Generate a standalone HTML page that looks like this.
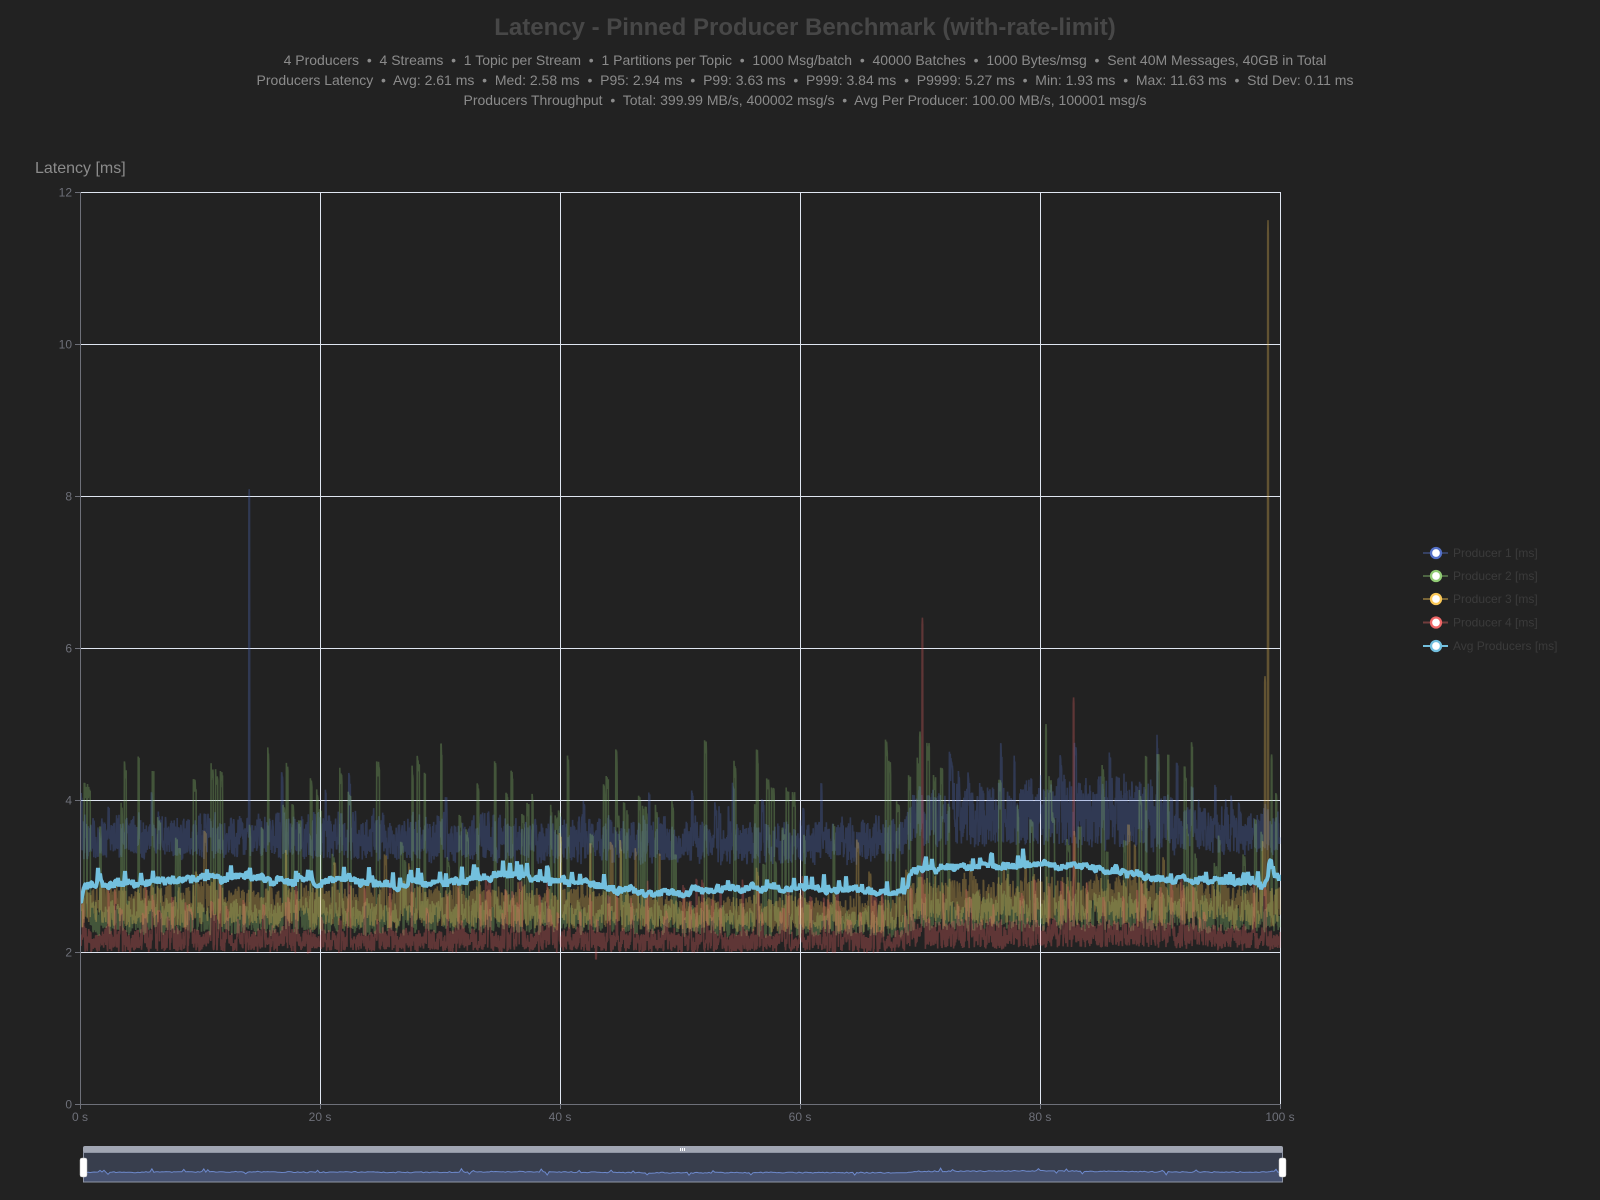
<!DOCTYPE html>
<html><head><meta charset="utf-8">
<style>
html,body{margin:0;padding:0;background:#222222;width:1600px;height:1200px;overflow:hidden;}
.t{position:absolute;left:5px;width:1600px;text-align:center;font-family:"Liberation Sans",Arial,sans-serif;white-space:pre;}
#title{top:13px;font-size:24px;font-weight:bold;color:#474747;line-height:30px;}
.sub{font-size:14px;color:#8b8b8b;line-height:20px;}
svg{position:absolute;left:0;top:0;}
</style></head><body>
<svg id="s" width="1600" height="1200" viewBox="0 0 1600 1200" xmlns="http://www.w3.org/2000/svg" font-family="Liberation Sans, Arial, sans-serif">
<defs><clipPath id="cp"><rect x="80" y="150" width="1201" height="954"/></clipPath></defs>
<g stroke="#E0E6F1" stroke-width="1" shape-rendering="crispEdges">
<line x1="80" y1="192.5" x2="1280" y2="192.5"/>
<line x1="80" y1="344.5" x2="1280" y2="344.5"/>
<line x1="80" y1="496.5" x2="1280" y2="496.5"/>
<line x1="80" y1="648.5" x2="1280" y2="648.5"/>
<line x1="80" y1="800.5" x2="1280" y2="800.5"/>
<line x1="80" y1="952.5" x2="1280" y2="952.5"/>
<line x1="320.5" y1="192" x2="320.5" y2="1104"/>
<line x1="560.5" y1="192" x2="560.5" y2="1104"/>
<line x1="800.5" y1="192" x2="800.5" y2="1104"/>
<line x1="1040.5" y1="192" x2="1040.5" y2="1104"/>
<line x1="1280.5" y1="192" x2="1280.5" y2="1104"/>
</g>
<g id="series" clip-path="url(#cp)"></g>
<g stroke="#6E7079" stroke-width="1" shape-rendering="crispEdges">
<line x1="80.5" y1="192" x2="80.5" y2="1104"/>
<line x1="80" y1="1104.5" x2="1281" y2="1104.5"/>
<line x1="75" y1="192.5" x2="80" y2="192.5"/>
<line x1="75" y1="344.5" x2="80" y2="344.5"/>
<line x1="75" y1="496.5" x2="80" y2="496.5"/>
<line x1="75" y1="648.5" x2="80" y2="648.5"/>
<line x1="75" y1="800.5" x2="80" y2="800.5"/>
<line x1="75" y1="952.5" x2="80" y2="952.5"/>
<line x1="75" y1="1104.5" x2="80" y2="1104.5"/>
<line x1="80.5" y1="1104" x2="80.5" y2="1109"/>
<line x1="320.5" y1="1104" x2="320.5" y2="1109"/>
<line x1="560.5" y1="1104" x2="560.5" y2="1109"/>
<line x1="800.5" y1="1104" x2="800.5" y2="1109"/>
<line x1="1040.5" y1="1104" x2="1040.5" y2="1109"/>
<line x1="1280.5" y1="1104" x2="1280.5" y2="1109"/>
</g>
<g fill="#6E7079" font-size="12" text-anchor="end">
<text x="72" y="196.5">12</text>
<text x="72" y="348.5">10</text>
<text x="72" y="500.5">8</text>
<text x="72" y="652.5">6</text>
<text x="72" y="804.5">4</text>
<text x="72" y="956.5">2</text>
<text x="72" y="1108.5">0</text>
</g>
<g fill="#6E7079" font-size="12" text-anchor="middle">
<text x="80" y="1121">0 s</text>
<text x="320" y="1121">20 s</text>
<text x="560" y="1121">40 s</text>
<text x="800" y="1121">60 s</text>
<text x="1040" y="1121">80 s</text>
<text x="1280" y="1121">100 s</text>
</g>
<text x="35" y="173" fill="#8b8b8b" font-size="16">Latency [ms]</text>
<g id="legend" font-size="12" fill="#3b3b3b">
<line x1="1423" y1="553" x2="1448" y2="553" stroke="#5470c6" stroke-opacity="0.4" stroke-width="2"/>
<circle cx="1436" cy="553" r="5" fill="#fff" stroke="#5470c6" stroke-width="2.3"/>
<text x="1453" y="557">Producer 1 [ms]</text>
<line x1="1423" y1="576" x2="1448" y2="576" stroke="#91cc75" stroke-opacity="0.4" stroke-width="2"/>
<circle cx="1436" cy="576" r="5" fill="#fff" stroke="#91cc75" stroke-width="2.3"/>
<text x="1453" y="580">Producer 2 [ms]</text>
<line x1="1423" y1="599" x2="1448" y2="599" stroke="#fac858" stroke-opacity="0.4" stroke-width="2"/>
<circle cx="1436" cy="599" r="5" fill="#fff" stroke="#fac858" stroke-width="2.3"/>
<text x="1453" y="603">Producer 3 [ms]</text>
<line x1="1423" y1="622.5" x2="1448" y2="622.5" stroke="#ee6666" stroke-opacity="0.4" stroke-width="2"/>
<circle cx="1436" cy="622.5" r="5" fill="#fff" stroke="#ee6666" stroke-width="2.3"/>
<text x="1453" y="626.5">Producer 4 [ms]</text>
<line x1="1423" y1="646" x2="1448" y2="646" stroke="#73c0de" stroke-width="2"/>
<circle cx="1436" cy="646" r="5" fill="#fff" stroke="#73c0de" stroke-width="2.3"/>
<text x="1453" y="650">Avg Producers [ms]</text>
</g>
<g id="dz">
<rect x="83" y="1146" width="1200" height="7" rx="2" fill="#a1a6b3"/>
<rect x="83.5" y="1152.5" width="1199" height="29.5" fill="#383e4d" stroke="#8f95a4" stroke-width="1"/>
<path id="dzs" d="" fill="#46516f" stroke="none"/>
<path id="dzl" d="" fill="none" stroke="#6d89cc" stroke-width="1"/>
<rect x="80" y="1158" width="7" height="19" rx="2" fill="#ffffff" stroke="#bbbbbb" stroke-width="0.5"/>
<rect x="1279" y="1158" width="7" height="19" rx="2" fill="#ffffff" stroke="#bbbbbb" stroke-width="0.5"/>
<g fill="#ffffff"><rect x="680" y="1148" width="1" height="3"/><rect x="682" y="1148" width="1" height="3"/><rect x="684" y="1148" width="1" height="3"/></g>
</g>
</svg>
<div class="t" id="title">Latency - Pinned Producer Benchmark (with-rate-limit)</div>
<div class="t sub" style="top:50px">4 Producers  •  4 Streams  •  1 Topic per Stream  •  1 Partitions per Topic  •  1000 Msg/batch  •  40000 Batches  •  1000 Bytes/msg  •  Sent 40M Messages, 40GB in Total</div>
<div class="t sub" style="top:70px">Producers Latency  •  Avg: 2.61 ms  •  Med: 2.58 ms  •  P95: 2.94 ms  •  P99: 3.63 ms  •  P999: 3.84 ms  •  P9999: 5.27 ms  •  Min: 1.93 ms  •  Max: 11.63 ms  •  Std Dev: 0.11 ms</div>
<div class="t sub" style="top:90px">Producers Throughput  •  Total: 399.99 MB/s, 400002 msg/s  •  Avg Per Producer: 100.00 MB/s, 100001 msg/s</div>
<script>
(function(){
function rng(a){return function(){a|=0;a=a+0x6D2B79F5|0;var t=Math.imul(a^a>>>15,1|a);t=t+Math.imul(t^t>>>7,61|t)^t;return((t^t>>>14)>>>0)/4294967296;};}
var R=rng(20240611);
function X(t){return 80+12*t;}
function Y(v){return 1104-76*v;}
function ip(kp,t){if(t<=kp[0][0])return kp[0][1];for(var i=1;i<kp.length;i++){if(t<=kp[i][0]){var a=kp[i-1],b=kp[i];return a[1]+(b[1]-a[1])*(t-a[0])/(b[0]-a[0]);}}return kp[kp.length-1][1];}
function smooth(step){var n=Math.ceil(100/step)+2,v=[];for(var i=0;i<=n;i++)v.push(R()*2-1);return function(t){var x=t/step,i=Math.floor(x),f=x-i;f=(1-Math.cos(f*Math.PI))/2;var a=v[Math.min(i,n)],b=v[Math.min(i+1,n)];return a+(b-a)*f;};}
function band(o){
  var N=o.n||4000,ppx=N/1200,pts=[],s1=smooth(0.3),s2=smooth(0.25),left=0,spV=0;
  for(var i=0;i<=N;i++){
    var t=100*i/N,lo=ip(o.lo,t)+o.jl*s1(t),hi=ip(o.hi,t)+o.jh*s2(t);
    var v=lo+(hi-lo)*Math.pow(R(),o.pw||1);
    if(left>0){v=spV*(0.95+0.05*R());left--;}
    else{
      var sp=typeof o.sp==='function'?o.sp(t):o.sp;
      if(R()<sp/ppx){spV=o.spike(t,hi);left=(o.dmin||1)+Math.floor(R()*(o.dr||5));v=spV;}
    }
    pts.push([t,v]);
  }
  (o.extra||[]).forEach(function(e){var i=Math.round(e[0]/100*N);for(var k=-1;k<=1;k++){if(pts[i+k])pts[i+k][1]=e[1]*(k===0?1:0.985);}});
  return pts;
}
function path(pts){var s='';for(var i=0;i<pts.length;i++){s+=(i?'L':'M')+X(pts[i][0]).toFixed(1)+' '+Y(pts[i][1]).toFixed(1);}return s;}
var g=document.getElementById('series');
function add(d,col,w,op){var p=document.createElementNS('http://www.w3.org/2000/svg','path');p.setAttribute('d',d);p.setAttribute('fill','none');p.setAttribute('stroke',col);p.setAttribute('stroke-width',w);p.setAttribute('stroke-opacity',op);p.setAttribute('stroke-linejoin','bevel');g.appendChild(p);}
var p1=band({
 lo:[[0,3.25],[10,3.25],[30,3.22],[45,3.18],[60,3.17],[68.5,3.2],[69.5,3.4],[80,3.4],[88,3.35],[92,3.3],[100,3.28]],
 hi:[[0,3.78],[10,3.8],[30,3.78],[45,3.72],[60,3.68],[68.5,3.75],[69.5,4.15],[80,4.25],[88,4.3],[92,3.95],[100,3.85]],
 jl:0.06,jh:0.12,sp:0.035,dmin:2,dr:5,
 spike:function(t,hi){return hi+0.1+0.5*R();},
 extra:[[14.1,8.09]]
});
add(path(p1),'#5470c6',1.6,0.3);
var p2=band({
 lo:[[0,2.25],[40,2.25],[68,2.2],[70,2.3],[100,2.28]],
 hi:[[0,2.7],[40,2.65],[68,2.55],[70,2.75],[90,2.75],[100,2.6]],
 jl:0.05,jh:0.08,dmin:3,dr:7,
 sp:function(t){return (t<40||t>68)?0.12:0.085;},
 spike:function(t,hi){return 3.1+1.7*Math.pow(R(),0.75);},
 extra:[[70,4.9],[80.5,5.0],[99.3,4.6]]
});
add(path(p2),'#91cc75',1.6,0.3);
var p3=band({
 lo:[[0,2.33],[40,2.32],[68,2.27],[70,2.36],[92,2.36],[100,2.3]],
 hi:[[0,2.88],[40,2.87],[50,2.72],[68,2.72],[69.5,2.98],[90,2.98],[100,2.85]],
 jl:0.05,jh:0.08,sp:0.03,dmin:2,dr:5,
 spike:function(t,hi){return hi+0.15+0.6*R();},
 extra:[[98.75,5.63],[99.0,11.63]]
});
add(path(p3),'#fac858',1.6,0.3);
var p4=band({
 lo:[[0,2.0],[68,2.0],[70,2.05],[100,2.04]],
 hi:[[0,2.3],[40,2.3],[68,2.25],[70,2.42],[90,2.4],[100,2.3]],
 jl:0.03,jh:0.06,sp:0.11,dmin:2,dr:5,
 spike:function(t,hi){return 2.4+0.6*R();},
 extra:[[70.2,6.4],[82.8,5.35],[43,1.93]]
});
add(path(p4),'#ee6666',1.6,0.3);
var akp=[[0,2.6],[0.4,2.88],[4,2.9],[8,2.95],[12,2.97],[14,3.02],[16,2.95],[20,2.9],[22,3.0],[23,2.95],[26,2.88],[30,2.92],[33,2.97],[36,3.02],[38,2.95],[41,2.92],[44,2.85],[47,2.8],[50,2.79],[54,2.82],[58,2.85],[62,2.82],[66,2.8],[68.8,2.8],[69.3,3.1],[72,3.1],[75,3.12],[78,3.15],[80,3.17],[83,3.12],[86,3.05],[89,3.0],[92,2.95],[96,2.92],[98.8,2.9],[99.2,3.22],[99.6,3.0],[100,2.95]];
var sa=smooth(0.8),N=1200,ap=[];
for(var i=0;i<=N;i++){var t=100*i/N;var v=ip(akp,t)+0.035*sa(t)+0.05*(R()*2-1);if(R()<0.07)v+=0.06+0.12*R();ap.push([t,v]);}
add(path(ap),'#73c0de',4,1);
var dl='',M=600;
for(var i=0;i<=M;i++){var t=100*i/M;var y=1172.5-(ip(akp,t)-2.85)*5+0.5*(R()*2-1);var r=R();if(r<0.03)y+=2+R()*1.5;else if(r<0.06)y-=1.5+R()*1.5;var x=(84+1198*i/M).toFixed(1);dl+=(i?'L':'M')+x+' '+y.toFixed(1);}
document.getElementById('dzs').setAttribute('d',dl+'L1282 1181.5L84 1181.5Z');
document.getElementById('dzl').setAttribute('d',dl);
})();
</script>
</body></html>
